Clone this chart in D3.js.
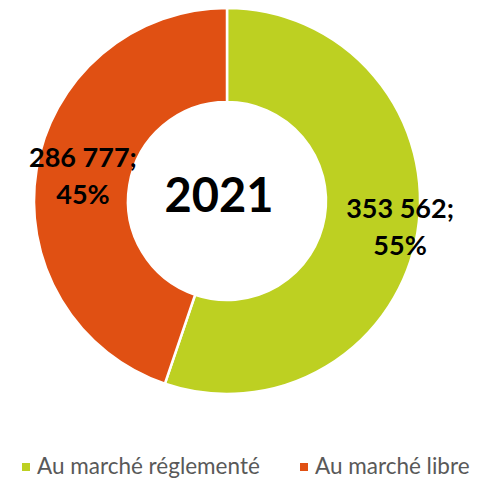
<!DOCTYPE html>
<html>
<head>
<meta charset="utf-8">
<script src="https://cdn.jsdelivr.net/npm/d3@7"></script>
<style>
  body { margin: 0; background: #fff; }
  svg { display: block; }
</style>
</head>
<body>
<svg class="canvas" width="480" height="479"></svg>
<script>
const categories = ["Au marché réglementé", "Au marché libre"];
const values = [353562, 286777];
const percents = ["55%", "45%"];
const colors = ["#bdd022", "#e05013"];
const centerTitle = "2021";

const cx = 227, cy = 201;
const outerR = 193, innerR = 99;

const svg = d3.select(".canvas");
const g = svg.append("g").attr("transform", `translate(${cx},${cy})`);

const pie = d3.pie().sort(null).value(d => d.value);
const arc = d3.arc().innerRadius(innerR).outerRadius(outerR);

const data = categories.map((c, i) => ({ name: c, value: values[i], pct: percents[i], color: colors[i] }));
const arcs = pie(data);

g.selectAll("path")
  .data(arcs)
  .enter()
  .append("path")
  .attr("d", arc)
  .attr("fill", d => d.data.color)
  .attr("stroke", "#fff")
  .attr("stroke-width", 2.5);

// labels sit near the centroid, nudged like the original
const nudge = [[29, -3], [0, -6]];
const fmt = v => d3.format(",")(v).replace(/,/g, " ");

const labels = g.selectAll("text.lbl")
  .data(arcs)
  .enter()
  .append("text")
  .attr("class", "lbl")
  .attr("text-anchor", "middle")
  .attr("font-family", "Lato, 'Open Sans', sans-serif")
  .attr("font-weight", "bold")
  .attr("font-size", 27)
  .attr("fill", "#000")
  .attr("transform", (d, i) => {
    const [x, y] = arc.centroid(d);
    return `translate(${x + nudge[i][0]},${y + nudge[i][1]})`;
  });

labels.append("tspan").attr("x", 0).attr("dy", "-0.15em").text(d => fmt(d.data.value) + ";");
labels.append("tspan").attr("x", 0).attr("dy", "1.38em").text(d => d.data.pct);

g.append("text")
  .attr("text-anchor", "middle")
  .attr("x", -8)
  .attr("y", 11)
  .attr("font-family", "Lato, 'Open Sans', sans-serif")
  .attr("font-weight", "bold")
  .attr("font-size", 47)
  .attr("fill", "#000")
  .text(centerTitle);

// legend
const legendX = [22, 300];
const legend = svg.selectAll("g.legend")
  .data(data)
  .enter()
  .append("g")
  .attr("class", "legend")
  .attr("transform", (d, i) => `translate(${legendX[i]},467)`);

legend.append("rect")
  .attr("x", 0).attr("y", -4)
  .attr("width", 8).attr("height", 8)
  .attr("fill", d => d.color);

legend.append("text")
  .attr("x", 15)
  .attr("y", 7)
  .attr("font-family", "Lato, 'Open Sans', sans-serif")
  .attr("font-size", 22.5)
  .attr("fill", "#595959")
  .text(d => d.name);
</script>
</body>
</html>
